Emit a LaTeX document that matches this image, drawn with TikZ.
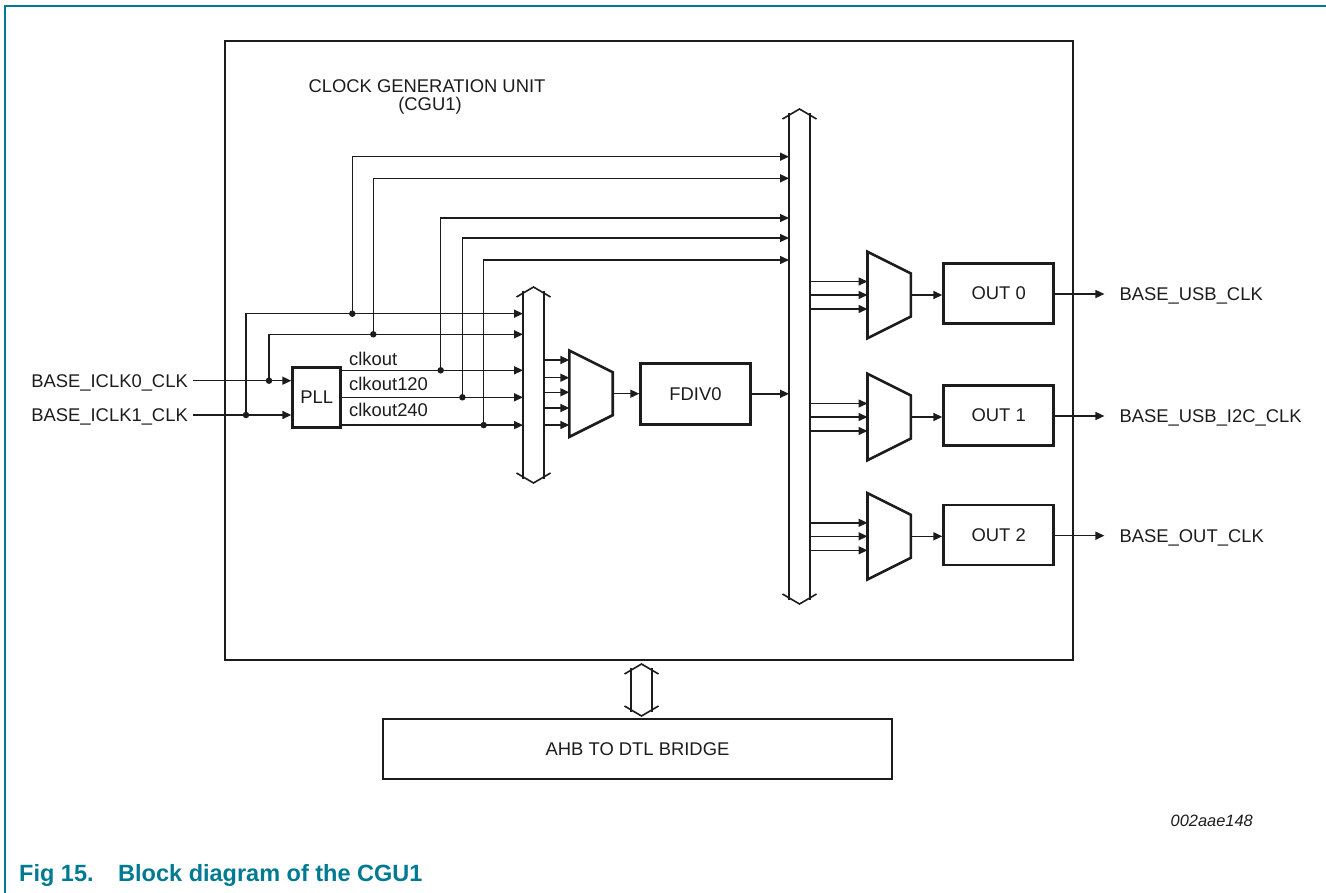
\documentclass[tikz,border=0pt]{standalone}
\usepackage{fontspec}
\setmainfont{Liberation Sans}
\usetikzlibrary{arrows.meta,calc}
\definecolor{nxpteal}{RGB}{0,122,146}
\definecolor{ink}{RGB}{28,28,28}
\newcommand\cgulbl{\fontsize{18.4}{20}\selectfont}
\newcommand\cgubus[3]{%
  \draw[busline] ({#1-17},{#2+10}) -- (#1,#2) -- ({#1+17},{#2+10});
  \draw[busline] ({#1-10.5},{#2+3.8}) -- ({#1-10.5},{#3-3.8});
  \draw[busline] ({#1+10.5},{#2+3.8}) -- ({#1+10.5},{#3-3.8});
  \draw[busline] ({#1-17},{#3-10}) -- (#1,#3) -- ({#1+17},{#3-10});
}
\tikzset{
  sig/.style={line width=1.5pt, draw=ink},
  arr/.style={sig, -{Triangle[length=9pt,width=8pt]}},
  blk/.style={draw=ink, line width=2.8pt, inner sep=0pt, font=\cgulbl, text=ink},
  busline/.style={line width=1.6pt, draw=ink, line join=miter},
  muxbox/.style={inner sep=0pt, minimum width=43pt, minimum height=86pt},
  muxline/.style={line width=2.6pt, draw=ink, line join=miter},
  dot/.style={circle, fill=ink, inner sep=0pt, minimum size=6.5pt},
  txt/.style={font=\cgulbl, text=ink, inner sep=0pt, text height=13.2pt, text depth=0pt},
}
\begin{document}
\begin{tikzpicture}[x=1pt,y=-1pt]
\useasboundingbox (0,0) rectangle (1326,893);
% page frame
\draw[nxpteal, line width=1.6pt] (5,893) -- (5,6) -- (1326,6);

% CGU outline
\node[draw=ink, line width=2.8pt, minimum width=848pt, minimum height=619pt, inner sep=0pt] (cgu) at (649,350.5) {};
\node[txt, anchor=base] (title1) at (427,92.3) {CLOCK GENERATION UNIT};
\node[txt, anchor=base] (title2) at (430,111) {(CGU1)};

% blocks
\node[blk, minimum width=48pt, minimum height=60pt] (pll) at (316.7,397.3) {PLL};
\node[blk, minimum width=109.6pt, minimum height=61pt] (fdiv) at (695.5,393.8) {FDIV0};
\node[blk, minimum width=110pt, minimum height=60pt] (out0) at (998.7,293.3) {OUT 0};
\node[blk, minimum width=110pt, minimum height=60pt] (out1) at (998.7,415.5) {OUT 1};
\node[blk, minimum width=110pt, minimum height=60pt] (out2) at (998.7,535) {OUT 2};
\node[blk, minimum width=509pt, minimum height=60pt] (br) at (637.5,749) {AHB TO DTL BRIDGE};

% buses
\coordinate (smL) at (523,0);
\coordinate (smR) at (544,0);
\coordinate (bigL) at (789,0);
\coordinate (bigR) at (810,0);
\cgubus{533.5}{287}{483}
\cgubus{799.5}{109}{604}
\cgubus{641.5}{664}{716}

% muxes
\node[muxbox] (m0) at (591,393.7) {};
\node[muxbox] (m1) at (889.2,295) {};
\node[muxbox] (m2) at (889.2,417) {};
\node[muxbox] (m3) at (889.2,536.3) {};
\foreach \m in {m0,m1,m2,m3}{
  \draw[muxline] (\m.north west) -- ($(\m.east)+(0,-21.5)$) -- ($(\m.east)+(0,21.5)$) -- (\m.south west) -- cycle;
}

% inputs
\node[txt, anchor=east, inner xsep=5pt] (in0) at (193,380.7) {BASE\_ICLK0\_CLK};
\node[txt, anchor=east, inner xsep=5pt] (in1) at (193,415) {BASE\_ICLK1\_CLK};
\draw[arr] (in0.east) -- (pll.west |- in0.east);
\draw[arr] (in1.east) -- (pll.west |- in1.east);
\node[dot] (j0) at (269,380.7) {};
\node[dot] (j1) at (246,415) {};
\draw[arr] (j1.center) |- ($(smL)+(0,313.7)$);
\draw[arr] (j0.center) |- ($(smL)+(0,334.3)$);
\node[dot] (k1) at (352.3,313.7) {};
\node[dot] (k0) at (373.3,334.3) {};
\draw[arr] (k1.center) |- ($(bigL)+(0,156.7)$);
\draw[arr] (k0.center) |- ($(bigL)+(0,178.3)$);

% PLL outputs
\coordinate (po0) at ($(pll.north east)+(0,4.4)$);
\coordinate (po1) at (pll.east);
\coordinate (po2) at ($(pll.south east)+(0,-3.6)$);
\draw[arr] (po0) -- (smL |- po0);
\draw[arr] (po1) -- (smL |- po1);
\draw[arr] (po2) -- (smL |- po2);
\node[txt, anchor=base west] (l0) at (349,366) {clkout};
\node[txt, anchor=base west] (l1) at (349,391) {clkout120};
\node[txt, anchor=base west] (l2) at (349,417) {clkout240};
\node[dot] (c0) at ($(po0)+(98.6,0)$) {};
\node[dot] (c1) at ($(po1)+(120.3,0)$) {};
\node[dot] (c2) at ($(po2)+(141.6,0)$) {};
\draw[arr] (c0.center) |- ($(bigL)+(0,218)$);
\draw[arr] (c1.center) |- ($(bigL)+(0,238)$);
\draw[arr] (c2.center) |- ($(bigL)+(0,260)$);

% small bus -> mux0 -> FDIV0 -> big bus
\foreach \dy [count=\i] in {-33.7,-16,-1.4,14.3,31.3}{
  \coordinate (a\i) at ($(m0.west)+(0,\dy)$);
  \draw[arr] (smR |- a\i) -- (a\i);
}
\draw[arr] (m0.east) -- (fdiv.west |- m0.east);
\draw[arr] (fdiv.east) -- (bigL |- fdiv.east);

% big bus -> output muxes
\foreach \m in {m1,m2,m3}{
  \foreach \dy [count=\i] in {-13.5,0,14}{
    \coordinate (\m b\i) at ($(\m.west)+(0,\dy)$);
    \draw[arr] (bigR |- \m b\i) -- (\m b\i);
  }
}
\draw[arr] (m1.east) -- (out0.west |- m1.east);
\draw[arr] (m2.east) -- (out1.west |- m2.east);
\draw[arr] (m3.east) -- (out2.west |- m3.east);

% outputs
\node[txt, anchor=west] (ob0) at ($(out0.east)+(64.3,0.7)$) {BASE\_USB\_CLK};
\node[txt, anchor=west] (ob1) at ($(out1.east)+(64.3,0.5)$) {BASE\_USB\_I2C\_CLK};
\node[txt, anchor=west] (ob2) at ($(out2.east)+(64.3,0.7)$) {BASE\_OUT\_CLK};
\draw[arr] (out0.east |- ob0.west) -- ($(ob0.west)+(-15,0)$);
\draw[arr] (out1.east |- ob1.west) -- ($(ob1.west)+(-15,0)$);
\draw[arr] (out2.east |- ob2.west) -- ($(ob2.west)+(-15,0)$);

% figure id and caption
\node[font=\itshape\fontsize{16.4}{16}\selectfont, text=ink, anchor=base east, inner sep=0pt] (fid) at (1253,826) {002aae148};
\node[font=\bfseries\fontsize{23.5}{24}\selectfont, text=nxpteal, anchor=base west, inner sep=0pt] (cap) at (19,881.7) {Fig 15.\hspace{24.6pt}Block diagram of the CGU1};
\end{tikzpicture}
\end{document}
